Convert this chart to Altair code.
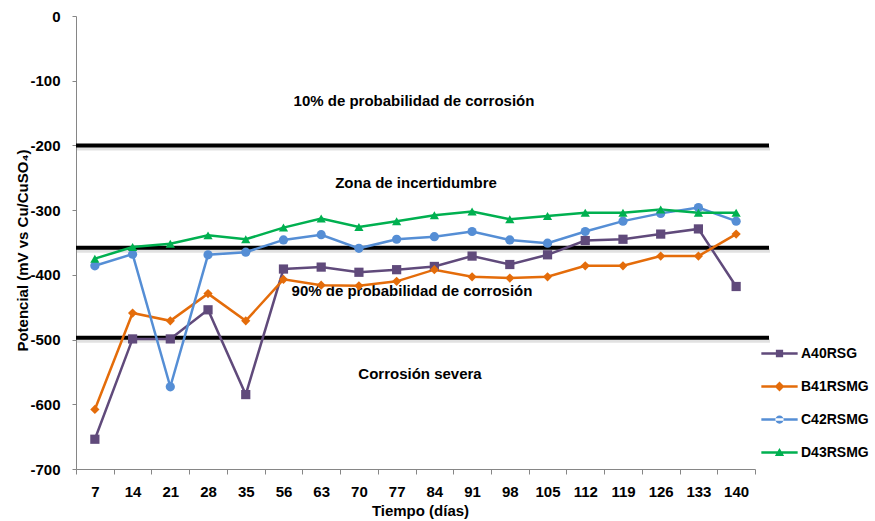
import altair as alt
import pandas as pd

# Measurement days (categorical axis)
dias = ["7", "14", "21", "28", "35", "56", "63", "70", "77", "84",
        "91", "98", "105", "112", "119", "126", "133", "140"]

# Half-cell potentials (mV vs Cu/CuSO4) per specimen
a40rsg = [-654, -499, -499, -454, -585, -391, -388, -396, -392, -387,
          -371, -384, -369, -347, -345, -337, -329, -418]
b41rsmg = [-608, -459, -471, -429, -471, -407, -416, -417, -410, -392,
           -403, -405, -403, -386, -386, -371, -371, -337]
c42rsmg = [-386, -368, -573, -369, -365, -346, -338, -359, -345, -341,
           -333, -346, -351, -333, -317, -305, -296, -317]
d43rsmg = [-375, -357, -352, -339, -345, -327, -313, -326, -317, -308,
           -302, -314, -309, -304, -304, -299, -304, -304]

series = ["A40RSG", "B41RSMG", "C42RSMG", "D43RSMG"]
colors = ["#604A7B", "#E46C0A", "#558ED5", "#00B050"]
markers = ["square", "diamond", "circle", "triangle-up"]

# Legend symbols: a short line with the series marker on it
_bar = "M-1.1,-0.07H1.1V0.07H-1.1Z "
legend_symbols = [
    _bar + "M-0.22,-0.22H0.22V0.22H-0.22Z",
    _bar + "M0,-0.3L0.3,0L0,0.3L-0.3,0Z",
    _bar + "M-0.25,0A0.25,0.25 0 1,0 0.25,0A0.25,0.25 0 1,0 -0.25,0Z",
    _bar + "M0,-0.27L0.28,0.21L-0.28,0.21Z",
]

# Corrosion-probability thresholds (ASTM C876 style zones)
umbrales = [-200, -358, -497]
zonas = ["10% de probabilidad  de corrosión", "Zona de incertidumbre",
         "90% de probabilidad  de corrosión", "Corrosión severa"]
zonas_y = [-131, -258, -425, -553]
zonas_px = [338, 340, 336, 344]

rows = []
for name, vals in zip(series, [a40rsg, b41rsmg, c42rsmg, d43rsmg]):
    for d, v in zip(dias, vals):
        rows.append({"serie": name, "dia": d, "valor": v})
df = pd.DataFrame(rows)

FONT = "Liberation Sans"

x_enc = alt.X(
    "dia:N", sort=dias,
    scale=alt.Scale(type="band", paddingInner=0, paddingOuter=0),
    axis=alt.Axis(
        title="Tiempo (días)", labelAngle=0, tickBand="extent",
        labelFont=FONT, labelFontSize=15, labelFontWeight="bold", labelColor="#000",
        labelPadding=10, tickSize=5, tickColor="#868686", domainColor="#868686",
        titleFont=FONT, titleFontSize=15, titleFontWeight="bold", titleColor="#000",
        titleX=344, titleY=41, titleBaseline="middle", titleAlign="center",
        grid=False,
    ),
)
y_enc = alt.Y(
    "valor:Q",
    scale=alt.Scale(domain=[-700, 0], nice=False, zero=False),
    axis=alt.Axis(
        title="Potencial (mV vs Cu/CuSO₄)", values=list(range(-700, 1, 100)),
        labelExpr="toString(datum.value)",
        labelFont=FONT, labelFontSize=15, labelFontWeight="bold", labelColor="#000",
        labelPadding=12, tickSize=4, tickColor="#868686", domainColor="#868686",
        titleFont=FONT, titleFontSize=15, titleFontWeight="bold", titleColor="#000",
        titleAngle=270, titleX=-54, titleY=234, titleBaseline="middle",
        titleAlign="center", grid=False,
    ),
)

color_scale = alt.Scale(domain=series, range=colors)

base = alt.Chart(df)

lines = base.mark_line(strokeWidth=2.5).encode(
    x=x_enc, y=y_enc,
    color=alt.Color("serie:N", scale=color_scale, legend=None),
    detail="serie:N",
)

points = base.mark_point(filled=True, opacity=1, size=85).encode(
    x=x_enc, y=y_enc,
    color=alt.Color("serie:N", scale=color_scale, legend=None),
    shape=alt.Shape("serie:N", scale=alt.Scale(domain=series, range=markers), legend=None),
)

legend_style = dict(
    title=None, orient="none", legendX=687, legendY=321,
    symbolSize=1089, symbolStrokeWidth=0, rowPadding=9,
    labelFont=FONT, labelFontSize=14, labelFontWeight="bold",
    labelColor="#000", labelOffset=5,
)

legend_layer = base.transform_filter("false").mark_point(
    filled=True, opacity=1, strokeWidth=0
).encode(
    color=alt.Color("serie:N", scale=color_scale, legend=alt.Legend(**legend_style)),
    shape=alt.Shape(
        "serie:N", scale=alt.Scale(domain=series, range=legend_symbols),
        legend=alt.Legend(**legend_style),
    ),
)

thr_df = pd.DataFrame({"umbral": umbrales})
shadow = alt.Chart(thr_df).mark_rule(
    color="#9a9a9a", strokeWidth=4, opacity=0.3, yOffset=3
).encode(y=alt.Y("umbral:Q"), x=alt.value(1), x2=alt.value(694))
rules = alt.Chart(thr_df).mark_rule(color="#000", strokeWidth=4).encode(
    y=alt.Y("umbral:Q"), x=alt.value(0), x2=alt.value(693)
)

zona_df = pd.DataFrame({"texto": zonas, "y": zonas_y, "px": zonas_px})
textos = alt.Chart(zona_df).mark_text(
    font=FONT, fontSize=15, fontWeight="bold", color="#000",
    align="center", baseline="middle",
).encode(
    x=alt.X("px:Q", scale=None), y=alt.Y("y:Q"), text="texto:N"
)

chart = alt.layer(shadow, rules, textos, lines, points, legend_layer).resolve_scale(
    shape="independent", color="independent"
).properties(
    width=679, height=453,
    padding={"left": 76, "top": 16, "right": 120, "bottom": 52},
    autosize=alt.AutoSizeParams(type="none"),
    background="white",
).configure_view(stroke=None)

chart.save("out.html", embed_options={"renderer": "svg", "actions": False})
